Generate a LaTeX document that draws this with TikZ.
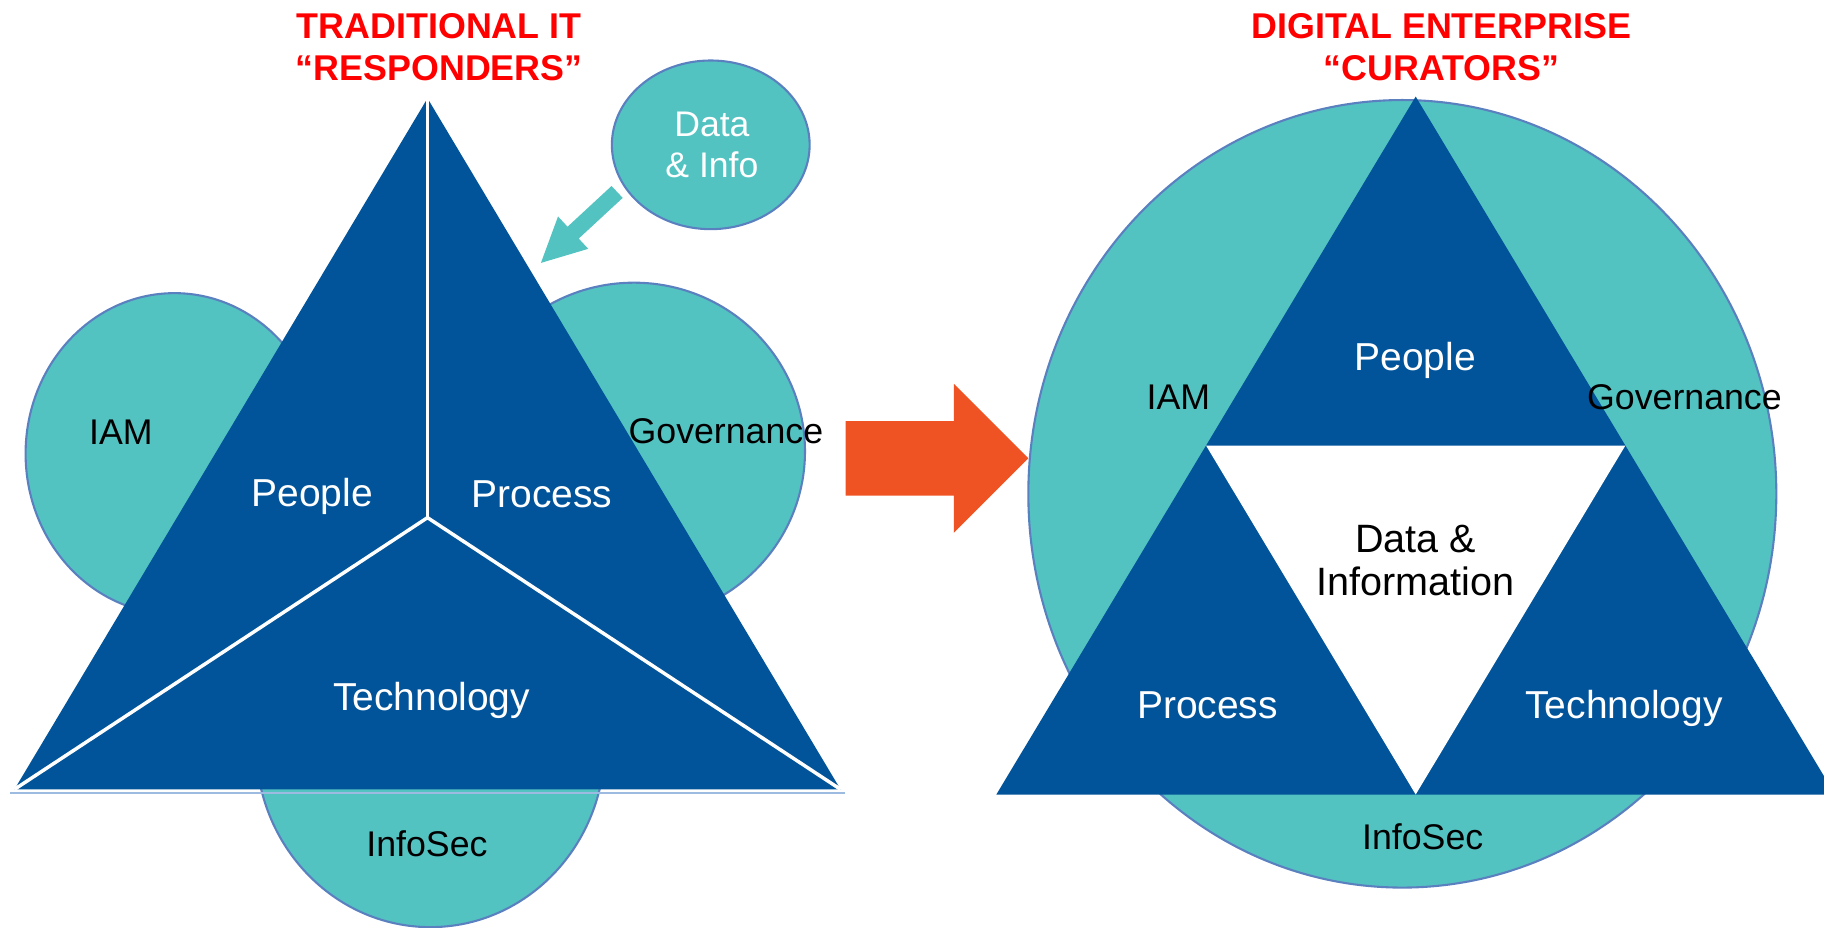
\documentclass[tikz,border=0pt]{standalone}
\usepackage{fontspec}
\setmainfont{Liberation Sans}
\usetikzlibrary{shapes.geometric}
\definecolor{dblue}{HTML}{01539A}
\definecolor{teal1}{HTML}{53C3C2}
\definecolor{eline}{HTML}{5A80C0}
\definecolor{tred}{HTML}{FF0000}
\definecolor{orng}{HTML}{F05323}
\definecolor{baseline1}{HTML}{9DBBE0}
\begin{document}
\begin{tikzpicture}[x=1pt,y=-1pt,
  blob/.style={ellipse, fill=teal1, draw=eline, line width=1.8pt, inner sep=0pt},
  wlab/.style={text=white, font=\fontsize{33.5}{36}\selectfont, anchor=base, inner sep=0pt},
  blab/.style={text=black, font=\fontsize{30.7}{36}\selectfont, anchor=base, inner sep=0pt},
  dlab/.style={text=black, font=\fontsize{34}{36}\selectfont, anchor=base, inner sep=0pt},
  ilab/.style={text=white, font=\fontsize{30.6}{36}\selectfont, anchor=base, inner sep=0pt},
  ttl/.style={text=tred, font=\fontsize{30.8}{36}\selectfont\bfseries, anchor=base, inner sep=0pt},
]
\useasboundingbox (0,0) rectangle (1568,797);

% ---------- left diagram ----------
\node[blob, minimum width=256pt, minimum height=276pt] (iamE) at (150,390) {};
\node[blob, minimum width=294pt, minimum height=290pt] (govE) at (545,388) {};
\node[blob, minimum width=300pt, minimum height=314pt] (secE) at (370,640) {};
\node[blob, minimum width=170pt, minimum height=145pt] (diE) at (611,124.5) {};

\coordinate (LA) at (367.5,84.5);
\coordinate (LL) at (12.5,678.5);
\coordinate (LR) at (722.5,678.5);
\coordinate (LC) at (367.5,445);
\fill[dblue] (LA) -- (LL) -- (LR) -- cycle;
\draw[white, line width=3pt] (LA) -- (LC);
\draw[white, line width=3pt] (LL) -- (LC) -- (LR);
\coordinate (BL1) at (9,681.5);
\coordinate (BL2) at (726,681.5);
\draw[baseline1, line width=1.5pt] (BL1) -- (BL2);

% teal arrow from Data & Info
\fill[teal1] (525.7,159.9) -- (535.3,170.1) -- (497.5,205.1) -- (505.7,213.9)
  -- (465,226) -- (479.7,186.1) -- (487.9,194.9) -- cycle;

\node[ilab] (diT1) at (612,117) {Data};
\node[ilab] (diT2) at (612,152.5) {\& Info};

\node[ttl] (t1a) at (377.5,33) {TRADITIONAL IT};
\node[ttl] (t1b) at (377.5,69.5) {“RESPONDERS”};

\node[blab] (iamL) at (104,382.5) {IAM};
\node[blab] (govL) at (624,381) {Governance};
\node[wlab] (pplL) at (268.5,435) {People};
\node[wlab] (proL) at (466,436) {Process};
\node[wlab] (tecL) at (371,610.5) {Technology};
\node[blab] (secL) at (367,736) {InfoSec};

% ---------- big arrow ----------
\fill[orng] (727,362) -- (820,362) -- (820,330) -- (884,394) -- (820,458)
  -- (820,426) -- (727,426) -- cycle;

% ---------- right diagram ----------
\node[blob, minimum width=643pt, minimum height=677pt] (bigE) at (1205.5,424.5) {};
\coordinate (RA) at (1217,83);
\coordinate (RL) at (856.5,683);
\coordinate (RR) at (1577.5,683);
\coordinate (RM1) at (1036.75,383);
\coordinate (RM2) at (1397.25,383);
\coordinate (RB) at (1217,683);
\fill[dblue] (RA) -- (RL) -- (RR) -- cycle;
\fill[white] (RM1) -- (RM2) -- (RB) -- cycle;

\node[ttl] (t2a) at (1239,33) {DIGITAL ENTERPRISE};
\node[ttl] (t2b) at (1239,69.5) {“CURATORS”};

\node[wlab] (pplR) at (1216.5,318.6) {People};
\node[blab] (iamR) at (1013,352.4) {IAM};
\node[blab] (govR) at (1448,352) {Governance};
\node[dlab] (dR1) at (1217,475) {Data \&};
\node[dlab] (dR2) at (1216.5,512) {Information};
\node[wlab] (proR) at (1038,618) {Process};
\node[wlab] (tecR) at (1396,618) {Technology};
\node[blab] (secR) at (1223,730) {InfoSec};
\end{tikzpicture}
\end{document}
